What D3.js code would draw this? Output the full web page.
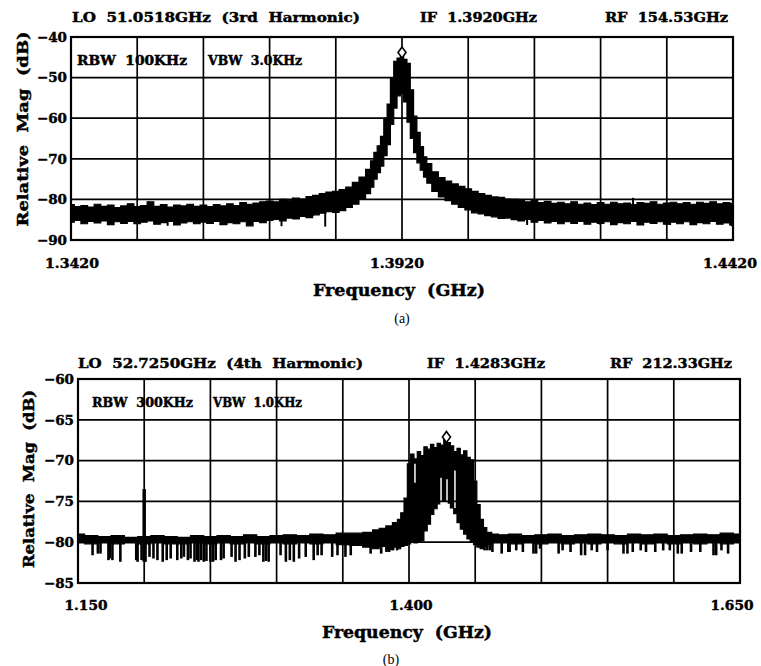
<!DOCTYPE html>
<html><head><meta charset="utf-8">
<script src="https://cdn.jsdelivr.net/npm/d3@7"></script>
<style>
html,body{margin:0;padding:0;background:#fff;}
svg{display:block;}
text{font-family:"DejaVu Serif",serif;font-weight:bold;fill:#000;stroke:#000;stroke-width:0.45px;white-space:pre;}
.cap{font-family:"Liberation Serif","Times New Roman",serif;font-weight:normal;stroke:none;}
</style>
</head><body>
<svg id="c" width="761" height="666"></svg>
<script>
// ---------------- Panel (a) data ----------------
const aFreq = [
1.342,1.343,1.344,1.345,1.346,1.347,1.348,1.349,1.350,1.351,1.352,1.353,1.354,1.355,1.356,1.357,1.358,1.359,1.360,1.361,
1.362,1.363,1.364,1.365,1.366,1.367,1.368,1.369,1.370,1.371,1.372,1.373,1.374,1.375,1.376,1.377,1.378,1.379,1.380,
1.381,1.382,1.383,1.384,1.385,1.386,1.387,
1.3875,1.388,1.3885,1.389,1.3895,1.390,1.3905,1.391,1.3915,1.392,1.3925,1.393,1.3935,1.394,1.3945,1.395,1.3955,1.396,
1.397,1.398,1.399,1.400,1.401,1.402,1.403,1.404,
1.405,1.406,1.407,1.408,1.409,1.410,1.411,1.412,1.413,1.414,1.415,1.416,1.417,1.418,1.419,1.420,1.421,1.422,1.423,1.424,
1.425,1.426,1.427,1.428,1.429,1.430,1.431,1.432,1.433,1.434,1.435,1.436,1.437,1.438,1.439,1.440,1.441,1.442];
const aUpper = [
-81.3,-81.8,-81.5,-81.9,-81.2,-81.7,-81.4,-82.0,-81.6,-81.1,-81.8,-81.5,-80.6,-81.7,-81.3,-81.9,-81.4,-81.6,-81.2,-81.7,
-81.4,-81.8,-81.3,-81.6,-81.1,-81.5,-80.8,-81.2,-80.9,-80.6,-80.4,-80.6,-80.0,-80.2,-79.7,-79.9,-79.3,-79.0,-78.6,
-78.2,-78.0,-77.6,-77.0,-75.8,-74.5,-72.6,
-70.5,-68.4,-66.8,-64.5,-60.0,-56.5,-50.0,-46.0,-45.2,-44.8,-45.5,-46.5,-53.0,-59.5,-63.5,-67.0,-69.5,-71.2,
-73.2,-74.6,-75.5,-76.2,-76.8,-77.4,-78.0,-78.6,
-79.0,-79.4,-79.5,-79.9,-80.0,-80.3,-80.6,-80.2,-80.8,-80.5,-81.0,-80.7,-81.1,-80.6,-81.2,-80.9,-81.3,-80.8,-81.2,-80.7,
-81.1,-80.9,-81.3,-80.8,-81.0,-80.6,-81.2,-80.9,-80.7,-81.1,-80.8,-81.2,-80.7,-81.0,-80.6,-81.1,-80.8,-81.0];
const aLower = [
-85.6,-85.2,-86.0,-85.4,-85.8,-85.3,-86.2,-85.5,-85.9,-85.4,-86.0,-85.6,-85.3,-86.1,-85.7,-85.4,-86.3,-85.8,-85.5,-86.0,
-85.6,-85.9,-85.4,-86.2,-85.7,-86.0,-85.5,-86.5,-85.4,-85.7,-85.2,-84.9,-85.3,-84.6,-84.8,-84.2,-84.5,-83.8,-83.4,
-83.0,-83.2,-82.8,-82.0,-81.2,-80.0,-78.6,
-77.0,-75.0,-73.4,-71.8,-69.2,-66.5,-61.5,-57.5,-54.5,-53.8,-56.0,-61.0,-65.0,-68.5,-71.0,-72.8,-74.5,-76.0,
-78.0,-79.4,-80.3,-81.2,-82.0,-82.6,-83.3,-83.6,
-84.0,-84.3,-84.7,-84.6,-85.0,-85.3,-84.9,-85.6,-85.2,-85.8,-85.4,-86.0,-85.5,-85.9,-85.4,-86.1,-85.6,-85.9,-85.5,-86.2,
-85.7,-86.0,-85.4,-86.3,-85.6,-85.9,-85.5,-86.1,-85.6,-86.0,-85.5,-86.2,-85.7,-86.0,-85.4,-86.1,-85.8,-86.3];
const aSpikeFreq  = [1.3566,1.3655,1.3738,1.3804,1.4109,1.4219,1.4325,1.4418,1.3755,1.3786,1.4269];
const aSpikeLevel = [-86.5,-86.3,-86.6,-86.7,-86.3,-86.2,-86.3,-86.6,-79.6,-79.2,-79.6];
const aMarker = [1.392, -43.8];
const aXTicks = [1.342, 1.392, 1.442];
const aXTickLabels = ["1.3420", "1.3920", "1.4420"];
const aYTicks = [-40, -50, -60, -70, -80, -90];
const aHeader = ["LO  51.0518GHz  (3rd  Harmonic)", "IF  1.3920GHz", "RF  154.53GHz"];
const aSettings = ["RBW  100KHz", "VBW  3.0KHz"];

// ---------------- Panel (b) data ----------------
const bFreq = [
1.150,1.160,1.170,1.180,1.190,1.200,1.210,1.220,1.230,1.240,1.250,1.260,1.270,1.280,1.290,1.300,1.310,1.320,1.330,1.340,1.350,1.360,
1.3700,1.3750,1.3800,1.3850,1.3900,1.3925,1.3950,1.3975,1.4000,1.4025,1.4050,1.4075,1.4100,1.4125,1.4150,1.4175,1.4200,
1.4225,1.4250,1.4275,1.4300,1.4325,1.4350,1.4375,1.4400,1.4425,1.4450,1.4475,1.4500,1.4525,1.4550,1.4575,1.4600,1.4650,
1.470,1.480,1.490,1.500,1.510,1.520,1.530,1.540,1.550,1.560,1.570,1.580,1.590,1.600,1.610,1.620,1.630,1.640,1.650];
const bUpper = [
-79.0,-79.2,-79.3,-79.2,-79.4,-79.3,-79.2,-79.3,-79.4,-79.2,-79.3,-79.2,-79.3,-79.1,-79.3,-79.2,-79.1,-79.2,-79.0,-79.1,-78.9,-78.9,
-78.8,-78.5,-78.3,-78.0,-77.6,-77.2,-76.4,-74.6,-70.4,-69.2,-69.8,-68.9,-69.4,-68.3,-68.6,-68.0,-68.4,
-67.9,-68.1,-67.4,-67.8,-68.2,-68.9,-68.5,-69.3,-68.8,-69.6,-69.9,-72.5,-75.4,-77.2,-78.2,-78.8,-79.0,
-79.1,-79.0,-79.2,-79.1,-79.0,-79.2,-79.1,-79.0,-79.1,-79.2,-79.0,-79.1,-79.0,-79.2,-79.1,-79.0,-79.1,-78.9,-79.0];
const bLower = [
-80.1,-80.2,-80.1,-80.2,-80.1,-80.2,-80.1,-80.2,-80.2,-80.1,-80.2,-80.1,-80.2,-80.1,-80.2,-80.1,-80.2,-80.1,-80.2,-80.1,-80.3,-80.4,
-80.6,-80.8,-80.5,-80.9,-80.6,-80.8,-80.5,-80.4,-80.2,-80.0,-80.1,-80.0,-79.8,-78.6,-77.8,-76.6,-75.9,
-75.3,-75.0,-74.9,-75.2,-75.8,-76.5,-77.6,-78.4,-79.0,-79.6,-80.0,-80.3,-80.6,-80.8,-80.5,-80.3,-80.1,
-80.1,-80.2,-80.1,-80.2,-80.1,-80.2,-80.1,-80.2,-80.1,-80.2,-80.1,-80.2,-80.1,-80.2,-80.1,-80.2,-80.1,-80.2,-80.1];
const bSpikeFreq = [
1.161,1.165,1.167,1.173,1.174,1.176,1.182,1.194,1.195,1.198,1.201,1.204,1.207,1.210,1.214,1.217,1.220,1.225,1.228,1.230,
1.233,1.235,1.238,1.240,1.241,1.243,1.245,1.247,1.250,1.252,1.254,1.258,1.260,1.266,1.269,1.272,1.276,1.279,1.284,1.287,
1.290,1.292,1.294,1.303,1.307,1.310,1.313,1.317,1.322,1.328,1.331,1.334,1.342,1.346,1.352,1.356,1.371,1.379,1.383,1.385,
1.388,1.391,
1.457,1.459,1.461,1.463,1.470,1.475,1.476,1.481,1.486,1.494,1.496,1.499,1.513,1.516,1.522,1.530,1.533,1.538,1.542,1.550,
1.562,1.565,1.569,1.575,1.579,1.586,1.592,1.597,1.603,1.606,1.613,1.620,1.630,1.632,1.636,1.641];
const bSpikeLevel = [
-81.6,-81.4,-81.4,-82.2,-82.0,-82.2,-82.4,-82.2,-82.4,-82.2,-82.4,-81.8,-82.0,-82.2,-82.4,-82.2,-82.0,-82.2,-82.0,-81.8,
-82.2,-82.0,-82.4,-82.2,-82.4,-82.2,-82.4,-82.3,-82.4,-82.4,-82.2,-82.2,-82.0,-81.8,-82.4,-82.2,-82.0,-81.8,-81.8,-81.6,
-82.4,-82.3,-82.4,-81.6,-82.4,-82.2,-82.4,-82.0,-81.8,-82.2,-81.6,-81.6,-81.8,-81.6,-81.8,-81.6,-81.4,-81.4,-81.2,-81.2,
-81.0,-81.0,
-81.0,-81.0,-81.0,-81.2,-81.4,-81.2,-81.2,-81.0,-81.2,-81.4,-81.4,-80.8,-81.4,-81.0,-81.2,-81.6,-81.6,-81.0,-81.2,-81.0,
-81.4,-81.4,-81.2,-81.0,-81.2,-81.2,-81.0,-81.0,-81.4,-81.4,-81.2,-81.2,-81.6,-81.6,-81.0,-81.4];
const bSpurFreq = [1.200];
const bSpurTop = [-73.5];
const bSpurBottom = [-82.4];
// white dips visible inside the (b) peak
const bDipFreq = [1.4045, 1.4242, 1.4287, 1.4347];
const bDipTop = [-70.4, -72.1, -72.3, -71.2];
const bDipBottom = [-72.7, -75.4, -75.5, -75.8];
const bMarker = [1.4283, -67.1];
const bXTicks = [1.150, 1.400, 1.650];
const bXTickLabels = ["1.150", "1.400", "1.650"];
const bYTicks = [-60, -65, -70, -75, -80, -85];
const bHeader = ["LO  52.7250GHz  (4th  Harmonic)", "IF  1.4283GHz", "RF  212.33GHz"];
const bSettings = ["RBW  300KHz", "VBW  1.0KHz"];

const xTitle = "Frequency  (GHz)";
const yTitle = "Relative  Mag  (dB)";

// ---------------- drawing ----------------
const svg = d3.select("#c");
svg.append("rect").attr("width", 761).attr("height", 666).attr("fill", "#fff");

function panel(cfg) {
  const g = svg.append("g");
  const x = d3.scaleLinear().domain(cfg.xDomain).range([cfg.left, cfg.right]);
  const y = d3.scaleLinear().domain(cfg.yDomain).range([cfg.bottom, cfg.top]);

  cfg.header.forEach((t, i) => {
    g.append("text").attr("x", cfg.headerX[i]).attr("y", cfg.headerY)
      .attr("font-size", 13.5).attr("textLength", cfg.headerW[i])
      .attr("lengthAdjust", "spacingAndGlyphs").text(t);
  });
  cfg.settings.forEach((t, i) => {
    g.append("text").attr("x", cfg.setX[i]).attr("y", cfg.setY)
      .attr("font-size", 12).attr("textLength", cfg.setW[i])
      .attr("lengthAdjust", "spacingAndGlyphs").text(t);
  });

  const area = d3.area().curve(d3.curveStep)
    .x((d, i) => x(cfg.freq[i]))
    .y0((d, i) => y(cfg.lower[i]))
    .y1((d, i) => y(cfg.upper[i]));
  g.append("path").datum(cfg.freq).attr("d", area)
    .attr("fill", "#000").attr("stroke", "#000").attr("stroke-width", 1.2);

  const base = cfg.spikeBase;
  g.selectAll(null).data(cfg.spikeFreq).enter().append("line")
    .attr("x1", d => x(d)).attr("x2", d => x(d))
    .attr("y1", (d, i) => y(cfg.spikeLevel[i] < base ? base + 0.5 : base - 0.5))
    .attr("y2", (d, i) => y(cfg.spikeLevel[i]))
    .attr("stroke", "#000").attr("stroke-width", cfg.spikeW);

  if (cfg.spurFreq) {
    g.selectAll(null).data(cfg.spurFreq).enter().append("line")
      .attr("x1", d => x(d)).attr("x2", d => x(d))
      .attr("y1", (d, i) => y(cfg.spurTop[i])).attr("y2", (d, i) => y(cfg.spurBottom[i]))
      .attr("stroke", "#000").attr("stroke-width", 3.5);
  }
  if (cfg.dipFreq) {
    g.selectAll(null).data(cfg.dipFreq).enter().append("line")
      .attr("x1", d => x(d)).attr("x2", d => x(d))
      .attr("y1", (d, i) => y(cfg.dipTop[i])).attr("y2", (d, i) => y(cfg.dipBottom[i]))
      .attr("stroke", "#fff").attr("stroke-width", 1.5);
  }

  const xt = d3.range(11).map(i => cfg.xDomain[0] + i * (cfg.xDomain[1] - cfg.xDomain[0]) / 10);
  g.selectAll(null).data(xt).enter().append("line")
    .attr("x1", d => x(d)).attr("x2", d => x(d)).attr("y1", cfg.top).attr("y2", cfg.bottom)
    .attr("stroke", "#000").attr("stroke-width", 1.7);
  g.selectAll(null).data(cfg.yTicks).enter().append("line")
    .attr("x1", cfg.left).attr("x2", cfg.right).attr("y1", d => y(d)).attr("y2", d => y(d))
    .attr("stroke", "#000").attr("stroke-width", 1.7);
  g.append("rect").attr("x", cfg.left).attr("y", cfg.top)
    .attr("width", cfg.right - cfg.left).attr("height", cfg.bottom - cfg.top)
    .attr("fill", "none").attr("stroke", "#000").attr("stroke-width", 2.2);

  const mx = x(cfg.marker[0]), my = y(cfg.marker[1]);
  g.append("path").attr("d", `M${mx},${my - 5.5}L${mx + 4},${my}L${mx},${my + 5.5}L${mx - 4},${my}Z`)
    .attr("fill", "#fff").attr("stroke", "#000").attr("stroke-width", 1.6);

  g.selectAll(null).data(cfg.yTicks).enter().append("text")
    .attr("x", cfg.left - 4).attr("y", d => y(d)).attr("dy", "0.36em")
    .attr("text-anchor", "end").attr("font-size", 13.5)
    .text(d => "\u2212" + Math.abs(d));

  g.selectAll(null).data(cfg.xTicks).enter().append("text")
    .attr("x", (d, i) => x(d) + cfg.xTickDx[i]).attr("y", cfg.xTickY)
    .attr("text-anchor", "middle").attr("font-size", 13)
    .attr("textLength", cfg.xTickW).attr("lengthAdjust", "spacingAndGlyphs")
    .text((d, i) => cfg.xTickLabels[i]);

  g.append("text").attr("x", cfg.xTitleX).attr("y", cfg.xTitleY)
    .attr("text-anchor", "middle").attr("font-size", 16)
    .attr("textLength", cfg.xTitleW).attr("lengthAdjust", "spacingAndGlyphs").text(xTitle);
  g.append("text").attr("transform", `translate(${cfg.yTitleX},${cfg.yTitleY}) rotate(-90)`)
    .attr("text-anchor", "middle").attr("dy", "0.36em").attr("font-size", 15.5)
    .attr("textLength", cfg.yTitleW).attr("lengthAdjust", "spacingAndGlyphs").text(yTitle);

  g.append("text").attr("class", "cap").attr("x", cfg.capX).attr("y", cfg.capY)
    .attr("text-anchor", "middle").attr("font-size", 14).text(cfg.cap);
}

panel({
  xDomain: [1.342, 1.442], yDomain: [-90, -40],
  left: 71, right: 733, top: 37, bottom: 240,
  freq: aFreq, upper: aUpper, lower: aLower,
  spikeFreq: aSpikeFreq, spikeLevel: aSpikeLevel, spikeBase: -83.5, spikeW: 2,
  marker: aMarker, yTicks: aYTicks,
  xTicks: aXTicks, xTickLabels: aXTickLabels, xTickDx: [1, -5, -3], xTickY: 268, xTickW: 54,
  header: aHeader, headerX: [72, 420, 605], headerY: 22, headerW: [288, 117, 123],
  settings: aSettings, setX: [77, 208], setY: 65, setW: [110, 94],
  xTitleX: 399, xTitleY: 296, xTitleW: 172,
  yTitleX: 22, yTitleY: 129, yTitleW: 195,
  cap: "(a)", capX: 402, capY: 323
});

panel({
  xDomain: [1.150, 1.650], yDomain: [-85, -60],
  left: 78, right: 740, top: 379, bottom: 583,
  freq: bFreq, upper: bUpper, lower: bLower,
  spikeFreq: bSpikeFreq, spikeLevel: bSpikeLevel, spikeBase: -80.1, spikeW: 2.6,
  spurFreq: bSpurFreq, spurTop: bSpurTop, spurBottom: bSpurBottom,
  dipFreq: bDipFreq, dipTop: bDipTop, dipBottom: bDipBottom,
  marker: bMarker, yTicks: bYTicks,
  xTicks: bXTicks, xTickLabels: bXTickLabels, xTickDx: [8, 2, -8], xTickY: 610, xTickW: 43,
  header: bHeader, headerX: [78, 427, 610], headerY: 368, headerW: [285, 118, 122],
  settings: bSettings, setX: [92, 213], setY: 407, setW: [101, 89],
  xTitleX: 407, xTitleY: 638, xTitleW: 170,
  yTitleX: 28, yTitleY: 479, yTitleW: 178,
  cap: "(b)", capX: 391, capY: 664
});
</script>
</body></html>
